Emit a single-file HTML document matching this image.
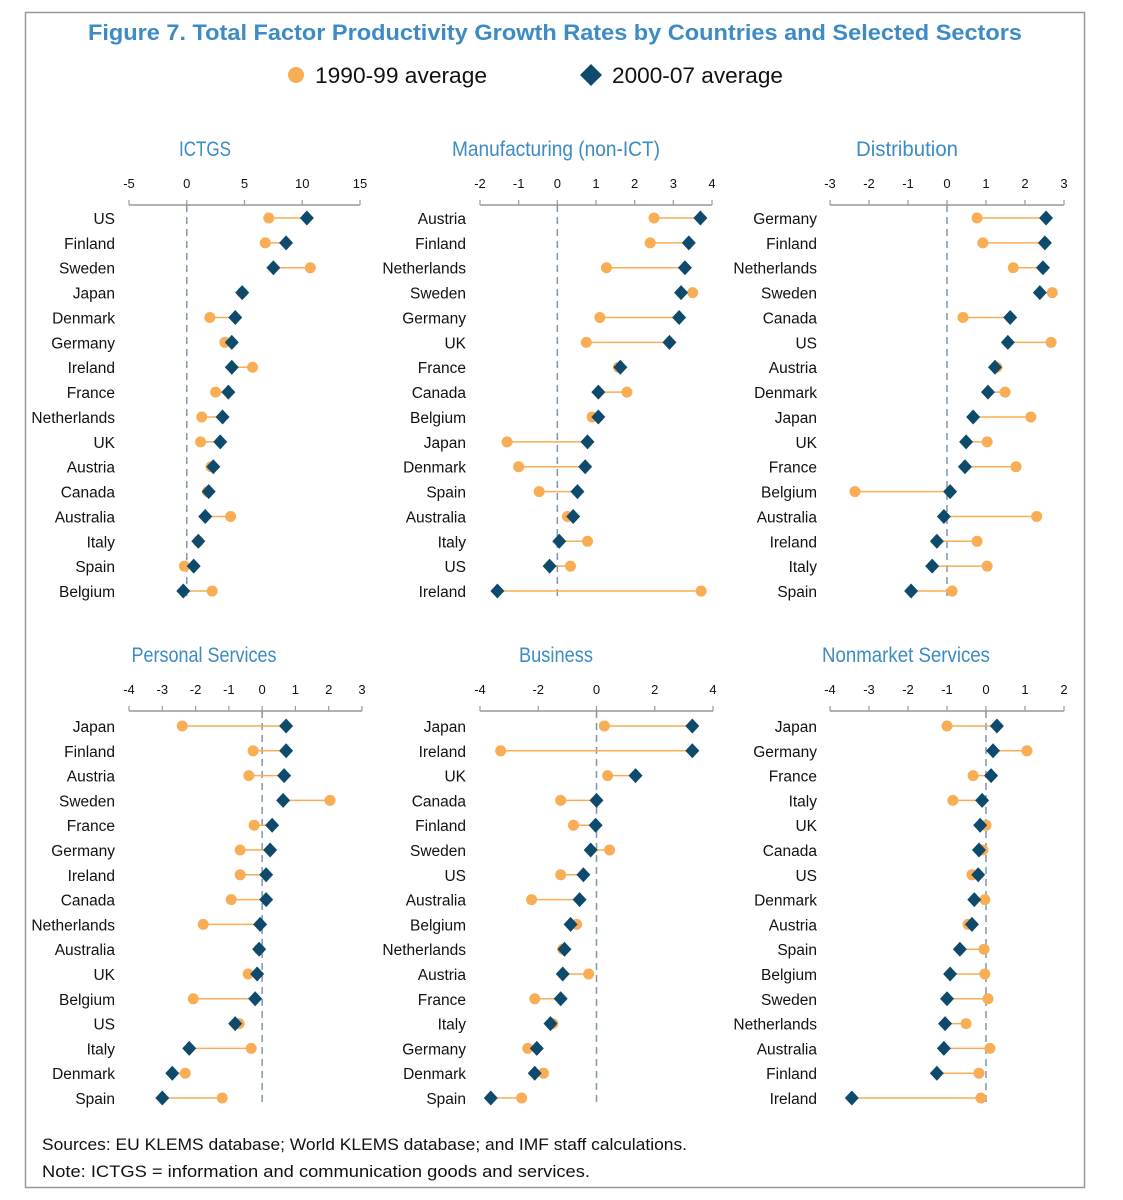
<!DOCTYPE html>
<html><head><meta charset="utf-8"><style>
html,body{margin:0;padding:0;background:#fff;}
svg{display:block;font-family:"Liberation Sans",sans-serif;}
</style></head><body>
<svg id="chart" width="1123" height="1200" viewBox="0 0 1123 1200">
<rect x="25.5" y="12.5" width="1059" height="1175" fill="none" stroke="#999" stroke-width="1.5"/>
<text x="555" y="40" text-anchor="middle" font-size="22" font-weight="bold" fill="#3d8bc4" textLength="934" lengthAdjust="spacingAndGlyphs">Figure 7. Total Factor Productivity Growth Rates by Countries and Selected Sectors</text>
<g>
<circle cx="296" cy="75" r="8" fill="#f9ad55"/>
<text x="315" y="83" font-size="22" fill="#111" textLength="172" lengthAdjust="spacingAndGlyphs">1990-99 average</text>
<path d="M591 64 L602 75 L591 86 L580 75 Z" fill="#0d4a6b"/>
<text x="612" y="83" font-size="22" fill="#111" textLength="171" lengthAdjust="spacingAndGlyphs">2000-07 average</text>
</g>
<text x="42" y="1150" font-size="17" fill="#111" textLength="645" lengthAdjust="spacingAndGlyphs">Sources: EU KLEMS database; World KLEMS database; and IMF staff calculations.</text>
<text x="42" y="1177" font-size="17" fill="#111" textLength="548" lengthAdjust="spacingAndGlyphs">Note:  ICTGS = information and communication goods and services.</text>
</svg>
<script>
// ---- Data ----
const ictgsCountries=["US","Finland","Sweden","Japan","Denmark","Germany","Ireland","France","Netherlands","UK","Austria","Canada","Australia","Italy","Spain","Belgium"];
const ictgs9099=[7.1,6.8,10.7,4.8,2.0,3.3,5.7,2.5,1.3,1.2,2.1,1.8,3.8,1.0,-0.2,2.2];
const ictgs0007=[10.4,8.6,7.5,4.8,4.2,3.9,3.9,3.6,3.1,2.9,2.3,1.9,1.6,1.0,0.6,-0.3];
const ictgsTicks=[-5,0,5,10,15];

const mfgCountries=["Austria","Finland","Netherlands","Sweden","Germany","UK","France","Canada","Belgium","Japan","Denmark","Spain","Australia","Italy","US","Ireland"];
const mfg9099=[2.5,2.4,1.27,3.5,1.1,0.75,1.58,1.8,0.9,-1.3,-1.0,-0.47,0.26,0.78,0.34,3.72];
const mfg0007=[3.7,3.4,3.3,3.2,3.15,2.9,1.63,1.06,1.06,0.78,0.72,0.52,0.41,0.05,-0.2,-1.55];
const mfgTicks=[-2,-1,0,1,2,3,4];

const distCountries=["Germany","Finland","Netherlands","Sweden","Canada","US","Austria","Denmark","Japan","UK","France","Belgium","Australia","Ireland","Italy","Spain"];
const dist9099=[0.77,0.92,1.7,2.7,0.41,2.67,1.28,1.49,2.15,1.03,1.77,-2.36,2.3,0.77,1.03,0.13];
const dist0007=[2.54,2.51,2.46,2.38,1.62,1.56,1.23,1.05,0.67,0.49,0.46,0.08,-0.08,-0.26,-0.38,-0.92];
const distTicks=[-3,-2,-1,0,1,2,3];

const persCountries=["Japan","Finland","Austria","Sweden","France","Germany","Ireland","Canada","Netherlands","Australia","UK","Belgium","US","Italy","Denmark","Spain"];
const pers9099=[-2.4,-0.27,-0.4,2.04,-0.24,-0.66,-0.66,-0.93,-1.77,-0.09,-0.42,-2.07,-0.69,-0.33,-2.31,-1.2];
const pers0007=[0.72,0.72,0.66,0.63,0.3,0.24,0.12,0.12,-0.06,-0.09,-0.15,-0.21,-0.81,-2.19,-2.7,-3.0];
const persTicks=[-4,-3,-2,-1,0,1,2,3];

const busCountries=["Japan","Ireland","UK","Canada","Finland","Sweden","US","Australia","Belgium","Netherlands","Austria","France","Italy","Germany","Denmark","Spain"];
const bus9099=[0.27,-3.29,0.38,-1.23,-0.79,0.45,-1.23,-2.23,-0.68,-1.16,-0.27,-2.12,-1.5,-2.36,-1.82,-2.57];
const bus0007=[3.29,3.29,1.34,0.0,-0.03,-0.2,-0.45,-0.58,-0.89,-1.1,-1.16,-1.23,-1.58,-2.05,-2.12,-3.63];
const busTicks=[-4,-2,0,2,4];

const nonCountries=["Japan","Germany","France","Italy","UK","Canada","US","Denmark","Austria","Spain","Belgium","Sweden","Netherlands","Australia","Finland","Ireland"];
const non9099=[-1.0,1.05,-0.33,-0.85,0,-0.08,-0.36,-0.03,-0.46,-0.05,-0.03,0.05,-0.51,0.1,-0.18,-0.13];
const non0007=[0.28,0.18,0.13,-0.1,-0.15,-0.18,-0.2,-0.3,-0.36,-0.67,-0.92,-1.0,-1.05,-1.08,-1.26,-3.44];
const nonTicks=[-4,-3,-2,-1,0,1,2];

// ---- Drawing ----
const NS="http://www.w3.org/2000/svg";
const svg=document.getElementById('chart');
function mk(tag,attrs,parent){const e=document.createElementNS(NS,tag);for(const k in attrs)e.setAttribute(k,attrs[k]);(parent||svg).appendChild(e);return e;}

function panel(cfg){
  const g=mk('g',{});
  
  
  const tMin=cfg.ticks[0],tMax=cfg.ticks[cfg.ticks.length-1];
  const x=v=>cfg.x0+(v-tMin)/(tMax-tMin)*(cfg.x1-cfg.x0);
  const y=i=>cfg.yRow0+i*cfg.step;
  const t=mk('text',{x:cfg.titleX,y:cfg.titleY,'text-anchor':'middle','font-size':21,fill:'#3d8bc4','textLength':cfg.titleW,'lengthAdjust':'spacingAndGlyphs'},g);
  t.textContent=cfg.title;
  
  
  const ax=mk('line',{x1:x(tMin),x2:x(tMax),y1:cfg.axisY,y2:cfg.axisY,stroke:'#999','stroke-width':1.5},g);
  
  
  cfg.ticks.forEach(v=>{
    const tk=mk('line',{x1:x(v),x2:x(v),y1:cfg.axisY-5,y2:cfg.axisY,stroke:'#999','stroke-width':1.2},g);
    
    
    const tl=mk('text',{x:x(v),y:cfg.axisY-17,'text-anchor':'middle','font-size':13,fill:'#111'},g);
    tl.textContent=String(v);
    
    
  });
  const z=mk('line',{x1:x(0),x2:x(0),y1:cfg.axisY,y2:y(cfg.countries.length-1)+8,stroke:'#7f96ab','stroke-width':1.5,'stroke-dasharray':'7,5'},g);
  
  
  cfg.countries.forEach((c,i)=>{
    const yy=y(i);
    const lb=mk('text',{x:cfg.labelX,y:yy+6,'text-anchor':'end','font-size':15.5,fill:'#111'},g);
    lb.textContent=c;
    
    
    const a=x(cfg.a[i]),b=x(cfg.b[i]);
    const ln=mk('line',{x1:a,x2:b,y1:yy,y2:yy,stroke:'#f9ad55','stroke-width':1.5},g);
    
    
    const ci=mk('circle',{cx:a,cy:yy,r:5.5,fill:'#f9ad55'},g);
    
    
    const d=mk('path',{d:`M${b} ${yy-7.5} L${b+7} ${yy} L${b} ${yy+7.5} L${b-7} ${yy} Z`,fill:'#0d4a6b'},g);
    
    
  });
}
const TOP={axisY:205,yRow0:218,step:24.87,titleY:156};
const BOT={axisY:711,yRow0:726,step:24.8,titleY:662};
panel(Object.assign({name:'ictgs',title:'ICTGS',titleX:205,titleW:52,x0:129,x1:360,labelX:115,countries:ictgsCountries,a:ictgs9099,b:ictgs0007,ticks:ictgsTicks},TOP));
panel(Object.assign({name:'manufacturing',title:'Manufacturing (non-ICT)',titleX:556,titleW:208,x0:480,x1:712,labelX:466,countries:mfgCountries,a:mfg9099,b:mfg0007,ticks:mfgTicks},TOP));
panel(Object.assign({name:'distribution',title:'Distribution',titleX:907,titleW:102,x0:830,x1:1064,labelX:817,countries:distCountries,a:dist9099,b:dist0007,ticks:distTicks},TOP));
panel(Object.assign({name:'personal-services',title:'Personal Services',titleX:204,titleW:145,x0:129,x1:362,labelX:115,countries:persCountries,a:pers9099,b:pers0007,ticks:persTicks},BOT));
panel(Object.assign({name:'business',title:'Business',titleX:556,titleW:74,x0:480,x1:713,labelX:466,countries:busCountries,a:bus9099,b:bus0007,ticks:busTicks},BOT));
panel(Object.assign({name:'nonmarket-services',title:'Nonmarket Services',titleX:906,titleW:168,x0:830,x1:1064,labelX:817,countries:nonCountries,a:non9099,b:non0007,ticks:nonTicks},BOT));
</script>
</body></html>
